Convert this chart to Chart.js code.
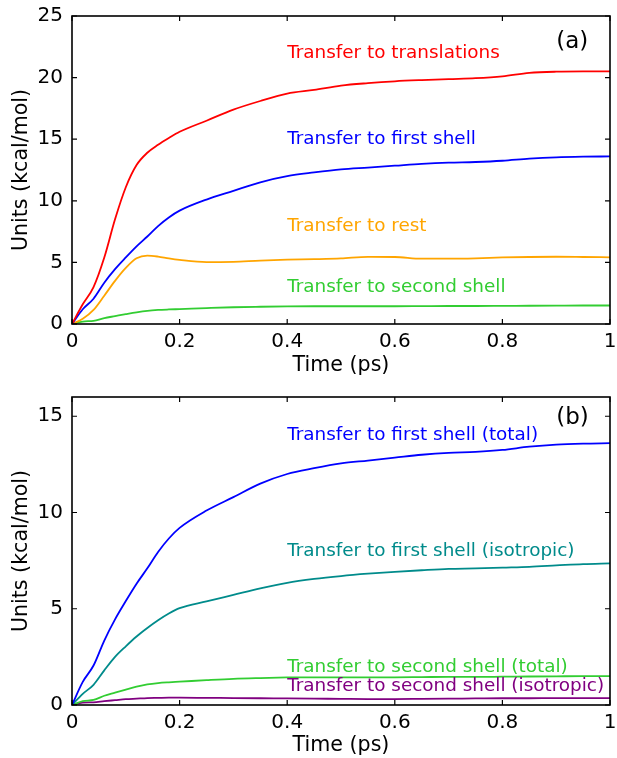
<!DOCTYPE html>
<html>
<head>
<meta charset="utf-8">
<script src="https://cdn.jsdelivr.net/npm/chart.js@4"></script>
<style>
  body { margin: 0; background: #fff; }
  #wrap { position: relative; width: 617px; height: 758px; }
  canvas { position: absolute; left: 0; }
</style>
</head>
<body>
<div id="wrap">
  <canvas id="chartA" width="617" height="380" style="top:0"></canvas>
  <canvas id="chartB" width="617" height="378" style="top:380px"></canvas>
</div>
<script>
const times = [0, 0.02, 0.04, 0.06, 0.08, 0.1, 0.12, 0.14, 0.16, 0.18, 0.2, 0.25, 0.3, 0.35, 0.4,
  0.45, 0.5, 0.55, 0.6, 0.65, 0.7, 0.75, 0.8, 0.85, 0.9, 0.95, 1.0];

const translations = [0, 1.6, 3.0, 5.4, 8.5, 11.1, 12.9, 13.9, 14.55, 15.1, 15.6, 16.5, 17.4, 18.1, 18.7,
  19.0, 19.35, 19.55, 19.7, 19.8, 19.88, 19.95, 20.1, 20.38, 20.48, 20.5, 20.5];
const firstShell = [0, 1.2, 2.05, 3.35, 4.45, 5.4, 6.3, 7.1, 7.95, 8.65, 9.2, 10.1, 10.8, 11.5, 12.0,
  12.3, 12.55, 12.7, 12.85, 13.0, 13.1, 13.15, 13.25, 13.42, 13.53, 13.58, 13.6];
const rest = [0, 0.42, 1.14, 2.3, 3.5, 4.55, 5.33, 5.55, 5.47, 5.32, 5.2, 5.02, 5.05, 5.15, 5.22,
  5.26, 5.32, 5.45, 5.44, 5.3, 5.3, 5.33, 5.4, 5.44, 5.46, 5.44, 5.41];
const secondShell = [0, 0.2, 0.26, 0.48, 0.64, 0.8, 0.95, 1.07, 1.14, 1.18, 1.21, 1.29, 1.36, 1.4, 1.43,
  1.44, 1.44, 1.44, 1.44, 1.45, 1.46, 1.46, 1.47, 1.48, 1.49, 1.5, 1.5];
const firstShellIso = [0, 0.58, 1.05, 1.8, 2.5, 3.05, 3.56, 4.0, 4.4, 4.75, 5.03, 5.38, 5.72, 6.06, 6.35,
  6.55, 6.7, 6.82, 6.92, 7.0, 7.07, 7.1, 7.14, 7.18, 7.25, 7.32, 7.36];
const secondShellIso = [0, 0.12, 0.14, 0.2, 0.25, 0.3, 0.33, 0.36, 0.37, 0.38, 0.38, 0.37, 0.36, 0.35, 0.34,
  0.33, 0.32, 0.31, 0.31, 0.32, 0.33, 0.34, 0.35, 0.35, 0.36, 0.36, 0.36];

const FONT = 'DejaVu Sans';

function points(values) {
  return values.map((v, i) => ({ x: times[i], y: v }));
}

function line(values, color) {
  return {
    data: points(values),
    borderColor: color,
    borderWidth: 1.8,
    pointRadius: 0,
    fill: false,
    cubicInterpolationMode: 'monotone'
  };
}

// box round the plot with inward ticks on all four sides
const framePlugin = {
  id: 'frame',
  afterDraw(chart) {
    const { ctx, chartArea: a, scales: { x, y } } = chart;
    ctx.save();
    ctx.strokeStyle = '#000';
    ctx.lineWidth = 1.6;
    ctx.strokeRect(a.left, a.top, a.right - a.left, a.bottom - a.top);
    ctx.lineWidth = 1.2;
    ctx.beginPath();
    x.ticks.forEach(t => {
      const px = x.getPixelForValue(t.value);
      ctx.moveTo(px, a.bottom); ctx.lineTo(px, a.bottom - 5);
      ctx.moveTo(px, a.top); ctx.lineTo(px, a.top + 5);
    });
    y.ticks.forEach(t => {
      const py = y.getPixelForValue(t.value);
      ctx.moveTo(a.left, py); ctx.lineTo(a.left + 5, py);
      ctx.moveTo(a.right, py); ctx.lineTo(a.right - 5, py);
    });
    ctx.stroke();
    ctx.restore();
  }
};

const notesPlugin = {
  id: 'notes',
  afterDatasetsDraw(chart, args, opts) {
    const { ctx, scales: { x, y } } = chart;
    ctx.save();
    ctx.textAlign = 'left';
    ctx.textBaseline = 'middle';
    opts.items.forEach(n => {
      ctx.font = n.size + 'px ' + FONT;
      ctx.fillStyle = n.color;
      ctx.fillText(n.text, x.getPixelForValue(n.x), y.getPixelForValue(n.y));
    });
    ctx.restore();
  }
};

function makeChart(id, datasets, yMax, notes, topPad, xHeight, titlePad) {
  return new Chart(document.getElementById(id), {
    type: 'line',
    data: { datasets },
    plugins: [framePlugin, notesPlugin],
    options: {
      responsive: false,
      animation: false,
      devicePixelRatio: 1,
      layout: { padding: { left: 0, right: 7, top: topPad, bottom: 0 } },
      plugins: {
        legend: { display: false },
        tooltip: { enabled: false },
        notes: { items: notes }
      },
      scales: {
        x: {
          type: 'linear', min: 0, max: 1,
          grid: { display: false, drawTicks: false },
          border: { display: false },
          ticks: {
            stepSize: 0.2, padding: 6, color: '#000', font: { family: FONT, size: 20 }, maxRotation: 0,
            callback: v => String(+v.toFixed(1))
          },
          title: { display: true, text: 'Time (ps)', color: '#000', font: { family: FONT, size: 20.6 }, padding: { top: 0, bottom: titlePad } },
          afterFit: s => { s.height = xHeight; s.paddingLeft = 0; s.paddingRight = 0; }
        },
        y: {
          min: 0, max: yMax,
          grid: { display: false, drawTicks: false },
          border: { display: false },
          ticks: { stepSize: 5, includeBounds: false, padding: 9, color: '#000', font: { family: FONT, size: 20 } },
          title: { display: true, text: 'Units (kcal/mol)', color: '#000', font: { family: FONT, size: 20.6 }, padding: { top: 9, bottom: 0 } },
          afterFit: s => { s.width = 72; s.paddingTop = 0; s.paddingBottom = 0; }
        }
      }
    }
  });
}

makeChart('chartA', [
  line(translations, '#ff0000'),
  line(firstShell, '#0000ff'),
  line(rest, '#ffa500'),
  line(secondShell, '#32cd32')
], 25, [
  { text: 'Transfer to translations', x: 0.4, y: 22, color: '#ff0000', size: 18.4 },
  { text: 'Transfer to first shell', x: 0.4, y: 15, color: '#0000ff', size: 18.4 },
  { text: 'Transfer to rest', x: 0.4, y: 7.95, color: '#ffa500', size: 18.4 },
  { text: 'Transfer to second shell', x: 0.4, y: 2.95, color: '#32cd32', size: 18.4 },
  { text: '(a)', x: 0.9, y: 22.85, color: '#000', size: 23 }
], 16, 56, 2);

makeChart('chartB', [
  line(firstShell, '#0000ff'),
  line(firstShellIso, '#008b8b'),
  line(secondShell, '#32cd32'),
  line(secondShellIso, '#800080')
], 16, [
  { text: 'Transfer to first shell (total)', x: 0.4, y: 14, color: '#0000ff', size: 18.4 },
  { text: 'Transfer to first shell (isotropic)', x: 0.4, y: 8, color: '#008b8b', size: 18.4 },
  { text: 'Transfer to second shell (total)', x: 0.4, y: 1.96, color: '#32cd32', size: 18.4 },
  { text: 'Transfer to second shell (isotropic)', x: 0.4, y: 0.99, color: '#800080', size: 18.4 },
  { text: '(b)', x: 0.9, y: 14.9, color: '#000', size: 23 }
], 17, 53, 0);
</script>
</body>
</html>
